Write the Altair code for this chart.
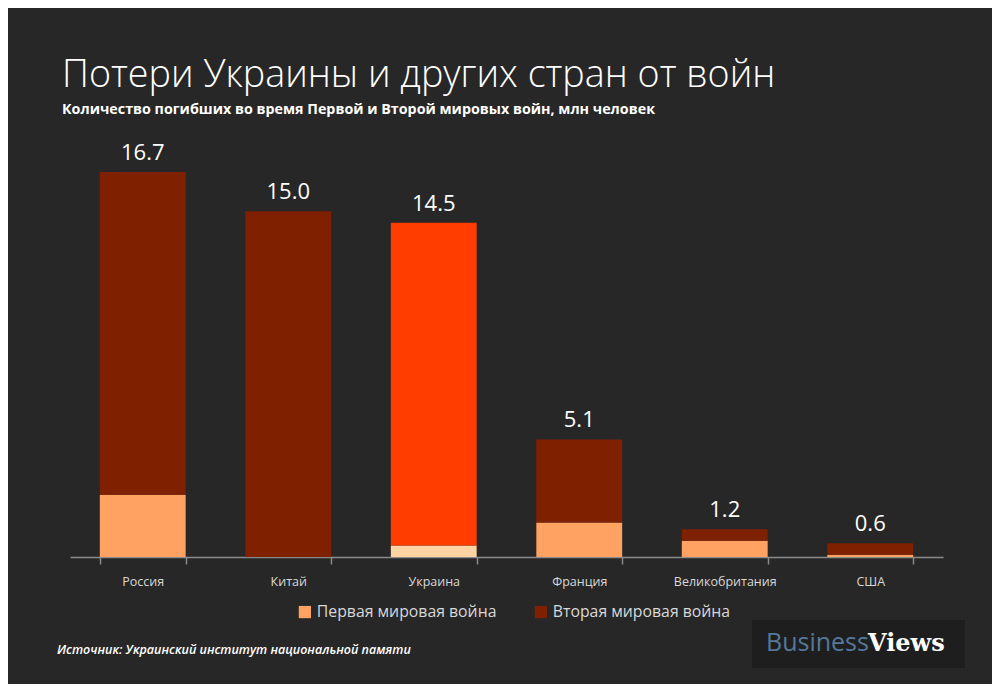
import altair as alt
import pandas as pd

countries = ["Россия", "Китай", "Украина", "Франция", "Великобритания", "США"]
ww1 = [2.7, 0.0, 0.5, 1.5, 0.7, 0.1]
ww2 = [14.0, 15.0, 14.0, 3.6, 0.5, 0.5]
totals = [16.7, 15.0, 14.5, 5.1, 1.2, 0.6]
total_labels = ["16.7", "15.0", "14.5", "5.1", "1.2", "0.6"]
series = ["Первая мировая война", "Вторая мировая война"]

title = "Потери Украины и других стран от войн"
subtitle = "Количество погибших во время Первой и Второй мировых войн, млн  человек"
source = "Источник:  Украинский институт национальной памяти"

rows = []
for i, c in enumerate(countries):
    k1 = "ua1" if c == "Украина" else series[0]
    k2 = "ua2" if c == "Украина" else series[1]
    rows.append({"country": c, "war": k1, "value": ww1[i], "ord": 0})
    rows.append({"country": c, "war": k2, "value": ww2[i], "ord": 1})
df = pd.DataFrame(rows)
tot = pd.DataFrame({"country": countries, "total": totals, "label": total_labels})

BG = "#272727"
W, H = 873, 415

xenc = alt.X("country:N", sort=countries, title=None,
             scale=alt.Scale(paddingInner=0.41, paddingOuter=0.205),
             axis=alt.Axis(labelAngle=0, labelColor="#d8d8d8", labelFont="Open Sans",
                           labelFontSize=12.5, labelPadding=11, domainColor="#8a8a8a",
                           tickColor="#8a8a8a", tickSize=7, tickBand="extent",
                           domainWidth=1.5, tickWidth=1.5))
yscale = alt.Scale(domain=[0, 18], nice=False)

bars = alt.Chart(df).mark_bar().encode(
    x=xenc,
    y=alt.Y("value:Q", stack="zero", scale=yscale, axis=None),
    order=alt.Order("ord:Q"),
    color=alt.Color("war:N",
                    scale=alt.Scale(domain=[series[0], series[1], "ua1", "ua2"],
                                    range=["#FFA262", "#7F2000", "#FFD3A2", "#FF3D00"]),
                    legend=alt.Legend(values=series, title=None, orient="none",
                                      direction="horizontal", legendX=227, legendY=462,
                                      symbolType="square", symbolSize=150,
                                      symbolStrokeWidth=0, labelColor="#d8d8d8",
                                      labelFont="Open Sans", labelFontSize=15.8,
                                      labelLimit=400, columnPadding=36, labelOffset=4)),
)

labels = alt.Chart(tot).mark_text(baseline="bottom", dy=-7, color="#ffffff",
                                  font="Open Sans", fontSize=22).encode(
    x=alt.X("country:N", sort=countries),
    y=alt.Y("total:Q", scale=yscale),
    text="label:N",
)

one = pd.DataFrame({"a": [1]})
t1 = alt.Chart(one).mark_text(text=title, align="left", baseline="alphabetic",
                              color="#ffffff", font="Open Sans", fontWeight=300,
                              fontSize=37.7).encode(x=alt.value(-8), y=alt.value(-55))
t2 = alt.Chart(one).mark_text(text=subtitle, align="left", baseline="alphabetic",
                              color="#ffffff", font="Open Sans",
                              fontWeight="bold", fontSize=14.3).encode(
    x=alt.value(-8), y=alt.value(-28))
t3 = alt.Chart(one).mark_text(text=source, align="left", baseline="alphabetic",
                              color="#ffffff", font="Open Sans",
                              fontStyle="italic", fontWeight=600, fontSize=12.5).encode(
    x=alt.value(-13), y=alt.value(512))
logo_bg = alt.Chart(one).mark_rect(color="#1e1e1e").encode(
    x=alt.value(682), x2=alt.value(895), y=alt.value(478), y2=alt.value(526))
logo1 = alt.Chart(one).mark_text(text="Business", align="left", baseline="alphabetic",
                                 color="#55789a", font="Open Sans", fontSize=25).encode(
    x=alt.value(696), y=alt.value(509))
logo2 = alt.Chart(one).mark_text(text="Views", align="left", baseline="alphabetic",
                                 color="#ffffff", font="DejaVu Serif", fontWeight="bold",
                                 fontSize=24).encode(x=alt.value(798), y=alt.value(509))

chart = alt.layer(bars, labels, t1, t2, t3, logo_bg, logo1, logo2).properties(
    width=W, height=H, background=BG,
    padding={"left": 62, "top": 134, "right": 49, "bottom": 127},
    autosize=alt.AutoSizeParams(type="none"),
).configure_view(stroke=None)

chart.save("out.html", embed_options={"renderer": "svg", "actions": False})
